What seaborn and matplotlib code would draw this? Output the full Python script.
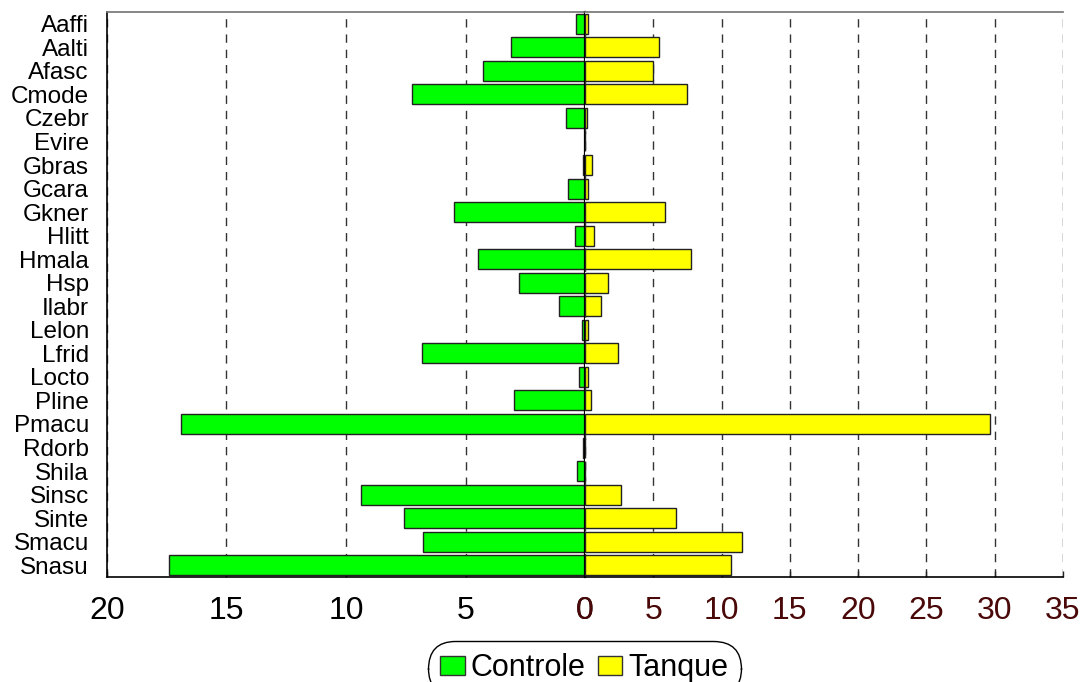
import matplotlib
matplotlib.use("Agg")
import matplotlib.pyplot as plt
from matplotlib.patches import Patch
import pandas as pd
import seaborn as sns

sns.set_theme(style="white")
plt.rcParams["font.family"] = ["Liberation Sans", "DejaVu Sans"]
plt.rcParams["text.color"] = "black"

# species codes, top to bottom
species = ["Aaffi", "Aalti", "Afasc", "Cmode", "Czebr", "Evire", "Gbras", "Gcara",
           "Gkner", "Hlitt", "Hmala", "Hsp", "Ilabr", "Lelon", "Lfrid", "Locto",
           "Pline", "Pmacu", "Rdorb", "Shila", "Sinsc", "Sinte", "Smacu", "Snasu"]
controle = [0.37, 3.1, 4.28, 7.23, 0.81, 0.0, 0.07, 0.73,
            5.5, 0.4, 4.49, 2.76, 1.09, 0.13, 6.84, 0.27,
            2.96, 16.92, 0.1, 0.32, 9.36, 7.56, 6.79, 17.39]
tanque = [0.24, 5.44, 4.95, 7.44, 0.13, 0.0, 0.48, 0.19,
          5.85, 0.66, 7.78, 1.66, 1.14, 0.19, 2.44, 0.19,
          0.46, 29.67, 0.0, 0.0, 2.61, 6.66, 11.52, 10.66]
left_ticks = [0, 5, 10, 15, 20]
right_ticks = [0, 5, 10, 15, 20, 25, 30, 35]

df = pd.DataFrame({"Especie": species, "Controle": controle, "Tanque": tanque})

fig = plt.figure(figsize=(10.86, 6.82), dpi=100)
ax_l = fig.add_axes([107 / 1086, 105 / 682, 478 / 1086, 565 / 682])
ax_r = fig.add_axes([585 / 1086, 105 / 682, 478 / 1086, 565 / 682])

sns.barplot(data=df, x="Controle", y="Especie", orient="h", color="#00ff00",
            saturation=1, width=0.85, edgecolor="#222222", linewidth=1, ax=ax_l)
sns.barplot(data=df, x="Tanque", y="Especie", orient="h", color="#ffff00",
            saturation=1, width=0.85, edgecolor="#222222", linewidth=1, ax=ax_r)

grid_kw = dict(axis="x", color="#333333", linewidth=1, linestyle=(0, (6, 5)))

ax_l.set_xlim(20, 0)
ax_l.set_xticks(left_ticks)
ax_l.grid(**grid_kw)
ax_l.set_axisbelow(True)
ax_l.tick_params(axis="x", direction="in", length=4, width=1, pad=14,
                 labelsize=23, labelcolor="black", bottom=True)
ax_l.tick_params(axis="y", length=0, pad=13, labelsize=17.5, labelcolor="black")
ax_l.set_xlabel("")
ax_l.set_ylabel("")

ax_r.set_xlim(0, 35)
ax_r.set_xticks(right_ticks)
ax_r.grid(**grid_kw)
ax_r.set_axisbelow(True)
ax_r.tick_params(axis="x", direction="in", length=4, width=1, pad=14,
                 labelsize=23, labelcolor="#4a0808", bottom=True)
ax_r.tick_params(axis="y", left=False, labelleft=False)
ax_r.set_xlabel("")
ax_r.set_ylabel("")

for ax in (ax_l, ax_r):
    ax.spines["top"].set_color("#777777")
    ax.spines["bottom"].set_color("black")
    ax.spines["bottom"].set_linewidth(1.2)
ax_l.spines["left"].set_color("black")
ax_l.spines["left"].set_linewidth(1.2)
ax_l.spines["right"].set_color("black")
ax_l.spines["right"].set_linewidth(1.6)
ax_l.spines["right"].set_zorder(5)
ax_r.spines["left"].set_visible(False)
ax_r.spines["right"].set_visible(False)

handles = [Patch(facecolor="#00ff00", edgecolor="#333333", label="Controle"),
           Patch(facecolor="#ffff00", edgecolor="#333333", label="Tanque")]
leg = fig.legend(handles=handles, loc="upper center", bbox_to_anchor=(0.538, 1 - 641 / 682),
                 ncol=2, fontsize=22, handlelength=0.8, handleheight=0.6,
                 handletextpad=0.2, columnspacing=0.4, borderpad=0.4,
                 borderaxespad=0, fancybox=True, frameon=True, framealpha=1)
frame = leg.get_frame()
frame.set_edgecolor("black")
frame.set_boxstyle("round", pad=0, rounding_size=0.9)
for t in leg.get_texts():
    t.set_color("black")

fig.savefig("out.png", dpi=100)
